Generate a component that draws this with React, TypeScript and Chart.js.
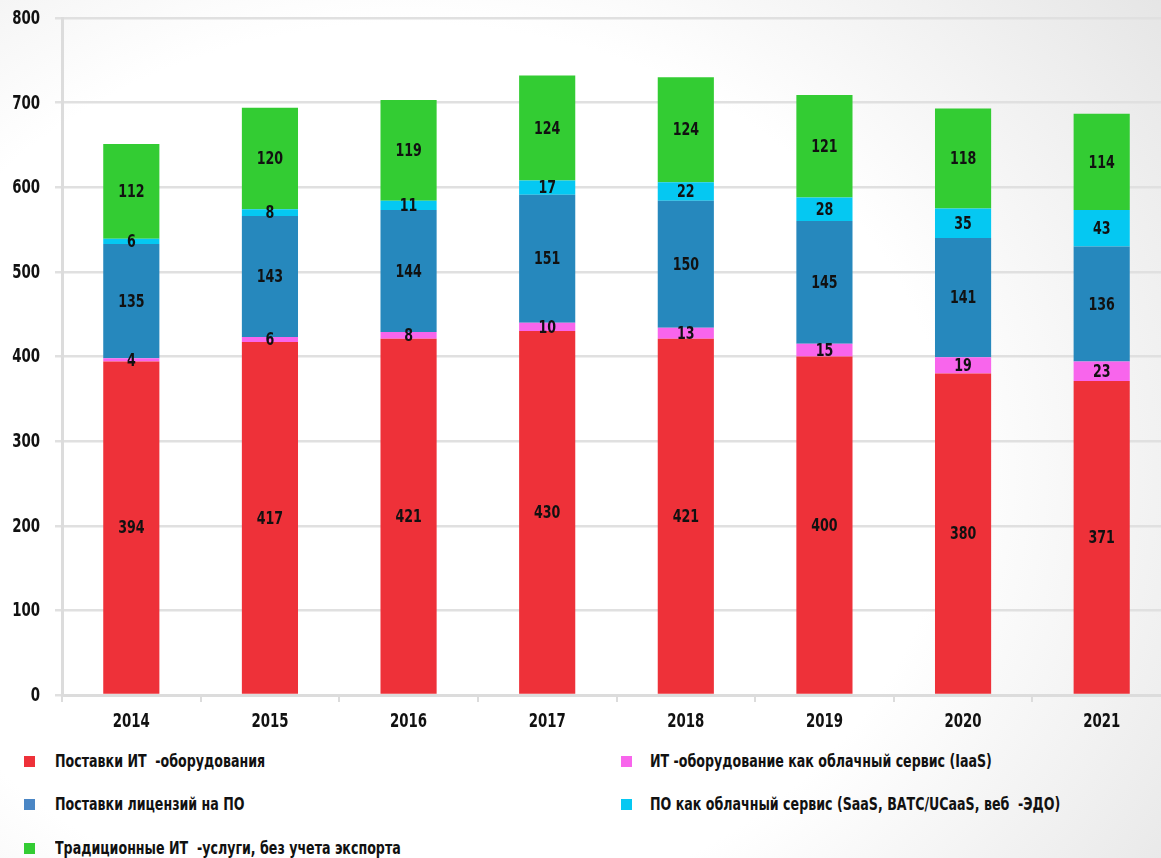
import React, { useEffect, useRef } from "react";
import { Chart, registerables } from "chart.js";

Chart.register(...registerables);

const years = ["2014", "2015", "2016", "2017", "2018", "2019", "2020", "2021"];
const hardware = [394, 417, 421, 430, 421, 400, 380, 371];
const iaas = [4, 6, 8, 10, 13, 15, 19, 23];
const licenses = [135, 143, 144, 151, 150, 145, 141, 136];
const saas = [6, 8, 11, 17, 22, 28, 35, 43];
const services = [112, 120, 119, 124, 124, 121, 118, 114];
const yTicks = [0, 100, 200, 300, 400, 500, 600, 700, 800];

const names = {
  hardware: "Поставки ИТ  -оборудования",
  iaas: "ИТ -оборудование как облачный сервис (IaaS)",
  licenses: "Поставки лицензий на ПО",
  saas: "ПО как облачный сервис (SaaS, ВАТС/UCaaS, веб  -ЭДО)",
  services: "Традиционные ИТ  -услуги, без учета экспорта",
};

const colors = {
  hardware: "#ee3139",
  iaas: "#f865ec",
  licenses: "#2688bd",
  saas: "#05c8f2",
  services: "#33cc33",
};
const legendBlue = "#4a86c5";

const FONT = '"Liberation Sans Narrow", "DejaVu Sans Condensed", sans-serif';
const SQUEEZE = 0.78;

function drawText(ctx: any, text: string, x: number, y: number, align: string) {
  ctx.save();
  ctx.translate(x, y);
  ctx.scale(SQUEEZE, 1);
  ctx.textAlign = align;
  ctx.textBaseline = "middle";
  ctx.fillText(text, 0, 0);
  ctx.restore();
}

const labelPlugin = {
  id: "barLabels",
  afterDatasetsDraw(chart: any) {
    const ctx = chart.ctx;
    ctx.save();
    ctx.font = `bold 18px ${FONT}`;
    ctx.fillStyle = "#111";
    chart.data.datasets.forEach((ds: any, i: number) => {
      const meta = chart.getDatasetMeta(i);
      meta.data.forEach((el: any, j: number) => {
        drawText(ctx, String(ds.data[j]), el.x, (el.y + el.base) / 2 + 1, "center");
      });
    });
    ctx.restore();
  },
  afterDraw(chart: any) {
    const ctx = chart.ctx;
    const xs = chart.scales.x;
    const ys = chart.scales.y;
    ctx.save();
    ctx.font = `bold 19px ${FONT}`;
    ctx.fillStyle = "#111";
    yTicks.forEach((v) => {
      drawText(ctx, String(v), 40, ys.getPixelForValue(v) + 1, "right");
    });
    years.forEach((label, i) => {
      drawText(ctx, label, xs.getPixelForTick(i), xs.bottom - 50 + 27, "center");
    });
    ctx.restore();
  },
};

export default function App() {
  const ref = useRef<HTMLCanvasElement>(null);
  useEffect(() => {
    if (!ref.current) return;
    const mk = (label: string, data: number[], color: string) => ({
      label,
      data,
      backgroundColor: color,
      borderWidth: 0,
      categoryPercentage: 1,
      barPercentage: 0.405,
    });
    const chart = new Chart(ref.current, {
      type: "bar",
      data: {
        labels: years,
        datasets: [
          mk(names.hardware, hardware, colors.hardware),
          mk(names.iaas, iaas, colors.iaas),
          mk(names.licenses, licenses, colors.licenses),
          mk(names.saas, saas, colors.saas),
          mk(names.services, services, colors.services),
        ],
      },
      options: {
        responsive: false,
        animation: false,
        layout: { padding: { top: 18, left: 0, right: 0, bottom: 0 } },
        plugins: { legend: { display: false }, tooltip: { enabled: false } },
        scales: {
          x: {
            stacked: true,
            afterFit: (s: any) => {
              s.height = 50;
            },
            grid: {
              display: true,
              drawOnChartArea: false,
              drawTicks: true,
              tickLength: 7,
              color: "#dcdcdc",
              lineWidth: 2,
            },
            border: { display: true, color: "#dcdcdc", width: 3 },
            ticks: { display: false },
          },
          y: {
            stacked: true,
            min: 0,
            max: 800,
            afterFit: (s: any) => {
              s.width = 62;
            },
            afterBuildTicks: (s: any) => {
              s.ticks = yTicks.map((v) => ({ value: v }));
            },
            grid: {
              color: "#e0e0e0",
              lineWidth: 2.5,
              tickLength: 7,
            },
            border: { display: true, color: "#dcdcdc", width: 3 },
            ticks: { display: false },
          },
        },
      },
      plugins: [labelPlugin],
    });
    return () => chart.destroy();
  }, []);

  const item = (left: number, top: number, color: string, text: string, textLeft: number) => (
    <React.Fragment key={text}>
      <div
        style={{
          position: "absolute",
          left,
          top: top - 6,
          width: 11,
          height: 11,
          background: color,
        }}
      />
      <div
        style={{
          position: "absolute",
          left: textLeft,
          top: top - 12,
          height: 24,
          lineHeight: "24px",
          font: `bold 18px ${FONT}`,
          color: "#111",
          whiteSpace: "pre",
          transform: `scaleX(${SQUEEZE})`,
          transformOrigin: "0 50%",
        }}
      >
        {text}
      </div>
    </React.Fragment>
  );

  return (
    <div
      style={{
        position: "absolute",
        left: 0,
        top: 0,
        width: 1161,
        height: 858,
        overflow: "hidden",
        background:
          "radial-gradient(ellipse 85% 95% at 35% 55%, #ffffff 55%, #e3e3e3 100%)",
      }}
    >
      <canvas ref={ref} width={1171} height={745} style={{ position: "absolute", left: 0, top: 0 }} />
      {item(24, 762, colors.hardware, names.hardware, 55)}
      {item(24, 805, legendBlue, names.licenses, 55)}
      {item(24, 849, colors.services, names.services, 55)}
      {item(621, 762, colors.iaas, names.iaas, 650)}
      {item(621, 805, colors.saas, names.saas, 650)}
    </div>
  );
}
